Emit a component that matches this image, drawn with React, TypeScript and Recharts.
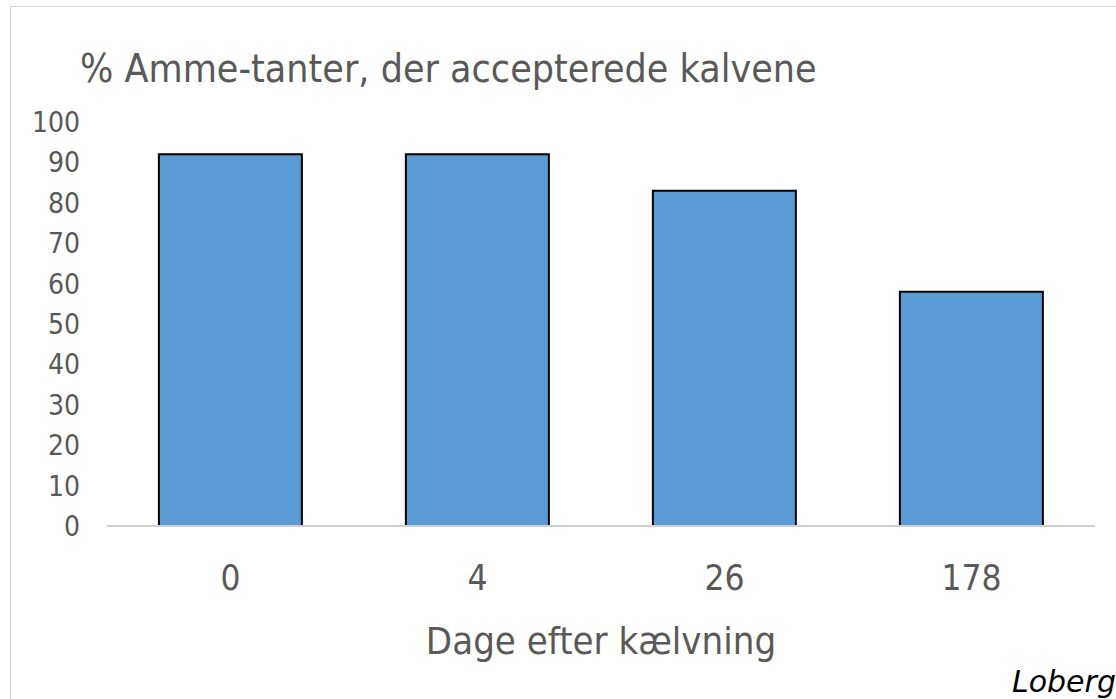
import { BarChart, Bar, XAxis, YAxis } from 'recharts';

const days = ['0', '4', '26', '178'];
const accepted = [92, 92, 83, 58];
const yTicks = [0, 10, 20, 30, 40, 50, 60, 70, 80, 90, 100];

const data = days.map((d, i) => ({ day: d, pct: accepted[i] }));

const font = '"Liberation Sans Narrow", "DejaVu Sans Condensed", sans-serif';
const grey = '#595959';

export default function App() {
  return (
    <div
      style={{
        position: 'absolute',
        left: 0,
        top: 0,
        width: 1116,
        height: 699,
        overflow: 'hidden',
        background: '#fff',
        fontFamily: font,
      }}
    >
      <div
        style={{
          position: 'absolute',
          left: 10,
          top: 6,
          width: 1200,
          height: 800,
          border: '1px solid #d4d4d4',
        }}
      />
      <BarChart
        width={1116}
        height={699}
        data={data}
        margin={{ top: 122, right: 21, bottom: 113, left: 0 }}
        barCategoryGap="21%"
        style={{ position: 'absolute', left: 0, top: 0 }}
      >
        <XAxis
          dataKey="day"
          height={60}
          tickLine={false}
          tickSize={0}
          tickMargin={39}
          axisLine={{ stroke: '#d0d0d0', strokeWidth: 2 }}
          tick={{ fill: grey, fontSize: 35, fontFamily: font }}
        />
        <YAxis
          width={107}
          domain={[0, 100]}
          ticks={yTicks}
          interval={0}
          axisLine={false}
          tickLine={false}
          tickSize={0}
          tickMargin={27}
          tick={{ fill: grey, fontSize: 28, fontFamily: font }}
        />
        <Bar dataKey="pct" fill="#5b9bd5" stroke="#000" strokeWidth={2} isAnimationActive={false} />
      </BarChart>
      <div
        style={{
          position: 'absolute',
          left: 80,
          top: 44,
          fontSize: 39,
          lineHeight: '50px',
          color: grey,
          whiteSpace: 'nowrap',
        }}
      >
        % Amme-tanter, der accepterede kalvene
      </div>
      <div
        style={{
          position: 'absolute',
          left: 0,
          width: 1202,
          top: 616,
          textAlign: 'center',
          fontSize: 38,
          lineHeight: '50px',
          color: grey,
          whiteSpace: 'nowrap',
        }}
      >
        Dage efter kælvning
      </div>
      <div
        style={{
          position: 'absolute',
          left: 1012,
          top: 664,
          fontSize: 30,
          lineHeight: '36px',
          fontStyle: 'italic',
          fontFamily: '"DejaVu Sans", sans-serif',
          color: '#000',
          whiteSpace: 'nowrap',
        }}
      >
        Loberg
      </div>
    </div>
  );
}
